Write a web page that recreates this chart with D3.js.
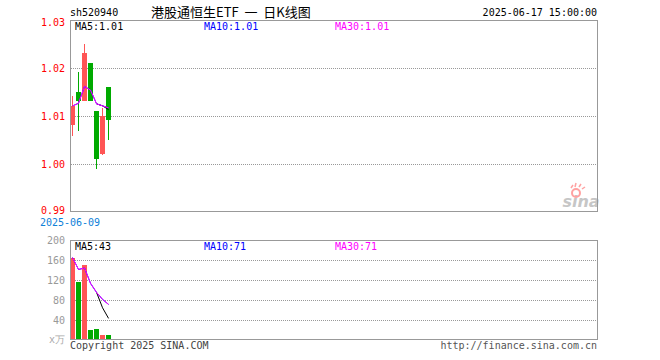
<!DOCTYPE html>
<html lang="zh">
<head>
  <meta charset="UTF-8">
  <title>港股通恒生ETF 日K线图</title>
  <script src="https://cdn.jsdelivr.net/npm/d3@7/dist/d3.min.js"></script>
  <style>
  body{
    margin: 0;
    background: #fff;
  }
  .mono{
    font-family: 'DejaVu Sans Mono', monospace;
    font-size: 10px;
  }
  .titulo{
    font-family: 'Noto Sans CJK SC', sans-serif;
    font-size: 13px;
    fill: #000;
  }
  .ejeY text{
    font-family: 'DejaVu Sans Mono', monospace;
    font-size: 10px;
  }
  .grid{
    stroke: #999;
    stroke-dasharray: 1,1;
    shape-rendering: crispEdges;
  }
  .marco{
    fill: none;
    stroke: #999;
    shape-rendering: crispEdges;
  }
  </style>
</head>
<body>
  <div id="grafico"></div>

  <script>
    // datos diarios
    var fechas = ["2025-06-09", "2025-06-10", "2025-06-11", "2025-06-12", "2025-06-13", "2025-06-16", "2025-06-17"];
    var apertura = [1.0082, 1.0150, 1.0131, 1.0211, 1.0111, 1.0021, 1.0160];
    var cierre   = [1.0121, 1.0132, 1.0232, 1.0131, 1.0011, 1.0100, 1.0092];
    var maximo   = [1.0142, 1.0192, 1.0250, 1.0211, 1.0111, 1.0116, 1.0160];
    var minimo   = [1.0058, 1.0069, 1.0131, 1.0131, 0.9990, 1.0019, 1.0049];
    var volumen  = [165, 117, 150, 21, 23, 11, 11];
    var ticksPrecio = [1.03, 1.02, 1.01, 1.00, 0.99];
    var ticksVolumen = [200, 160, 120, 80, 40];

    var w = 660;
    var h = 360;
    var izq = 70, der = 597;
    var totalSlots = 88;
    var rojo = "#ff5555", verde = "#00aa00";

    var svg = d3.select("#grafico")
      .append("svg")
      .attr("width", w)
      .attr("height", h);

    // escalas
    var slots = fechas.concat(d3.range(fechas.length, totalSlots).map(String));
    var xScale = d3.scaleBand()
      .domain(slots)
      .range([izq, der + 1])
      .paddingInner(1 / 6);
    var bw = Math.round(xScale.bandwidth());
    var xc = function(i){ return xScale(slots[i]) + bw / 2; };

    var yPrecio = d3.scaleLinear().domain([0.99, 1.03]).range([212, 20]);
    var yVol = d3.scaleLinear().domain([0, 200]).range([340, 240]);

    // medias moviles (con los dias disponibles)
    function media(arr, n){
      return arr.map(function(d, i){
        if (n === 5 && i < n - 1) return null;
        var ini = Math.max(0, i - n + 1);
        return d3.mean(arr.slice(ini, i + 1));
      });
    }
    var colMA = {5: "#000000", 10: "#0000ff", 30: "#ff00ff"};

    // cabecera
    svg.append("text").attr("class", "mono").attr("x", 70).attr("y", 16).text("sh520940");
    svg.append("text").attr("class", "titulo").attr("x", 151).attr("y", 17)
      .attr("xml:space", "preserve").text("港股通恒生ETF  一  日K线图");
    svg.append("text").attr("class", "mono").attr("x", der).attr("y", 16)
      .attr("text-anchor", "end").text("2025-06-17 15:00:00");

    // rejillas
    svg.selectAll(".gridP")
      .data(ticksPrecio.slice(1, -1))
      .enter().append("line")
      .attr("class", "grid")
      .attr("x1", izq + 1).attr("x2", der)
      .attr("y1", function(d){ return Math.round(yPrecio(d)) + 0.5; })
      .attr("y2", function(d){ return Math.round(yPrecio(d)) + 0.5; });

    svg.selectAll(".gridV")
      .data(ticksVolumen.slice(1))
      .enter().append("line")
      .attr("class", "grid")
      .attr("x1", izq + 1).attr("x2", der)
      .attr("y1", function(d){ return Math.round(yVol(d)) + 0.5; })
      .attr("y2", function(d){ return Math.round(yVol(d)) + 0.5; });

    // velas
    var velas = svg.append("g").attr("shape-rendering", "crispEdges");
    velas.selectAll(".mecha")
      .data(fechas)
      .enter().append("rect")
      .attr("x", function(d){ return xScale(d) + 2; })
      .attr("width", 1)
      .attr("y", function(d, i){ return yPrecio(maximo[i]); })
      .attr("height", function(d, i){ return yPrecio(minimo[i]) - yPrecio(maximo[i]); })
      .attr("fill", function(d, i){ return cierre[i] >= apertura[i] ? rojo : verde; });

    velas.selectAll(".cuerpo")
      .data(fechas)
      .enter().append("rect")
      .attr("x", function(d){ return xScale(d); })
      .attr("width", bw)
      .attr("y", function(d, i){ return yPrecio(Math.max(apertura[i], cierre[i])); })
      .attr("height", function(d, i){ return Math.max(1, Math.abs(yPrecio(apertura[i]) - yPrecio(cierre[i]))); })
      .attr("fill", function(d, i){ return cierre[i] >= apertura[i] ? rojo : verde; });

    // barras de volumen
    svg.append("g").attr("shape-rendering", "crispEdges")
      .selectAll("rect")
      .data(volumen)
      .enter().append("rect")
      .attr("x", function(d, i){ return xScale(fechas[i]); })
      .attr("width", bw)
      .attr("y", function(d){ return yVol(d); })
      .attr("height", function(d){ return yVol(0) - yVol(d); })
      .attr("fill", function(d, i){ return cierre[i] >= apertura[i] ? rojo : verde; });

    // lineas MA
    [5, 10, 30].forEach(function(n){
      var lp = d3.line()
        .defined(function(d){ return d !== null; })
        .x(function(d, i){ return xc(i); })
        .y(function(d){ return yPrecio(d); });
      svg.append("path").datum(media(cierre, n))
        .attr("d", lp).attr("fill", "none").attr("stroke", colMA[n]).attr("stroke-width", 1);

      var lv = d3.line()
        .defined(function(d){ return d !== null; })
        .x(function(d, i){ return xc(i); })
        .y(function(d){ return yVol(d); });
      svg.append("path").datum(media(volumen, n))
        .attr("d", lv).attr("fill", "none").attr("stroke", colMA[n]).attr("stroke-width", 1);
    });

    // marcos
    svg.append("rect").attr("class", "marco")
      .attr("x", izq + 0.5).attr("y", 20.5).attr("width", der - izq).attr("height", 191);
    svg.append("rect").attr("class", "marco")
      .attr("x", izq + 0.5).attr("y", 240.5).attr("width", der - izq).attr("height", 99);

    // ejes
    var ejeP = svg.append("g")
      .attr("class", "ejeY")
      .attr("transform", "translate(" + (izq - 2) + ",0)")
      .call(d3.axisLeft(yPrecio).tickValues(ticksPrecio).tickSize(0).tickPadding(3).tickFormat(d3.format(".2f")));
    ejeP.select(".domain").remove();
    ejeP.selectAll("text").attr("fill", "#ff0000");
    ejeP.selectAll(".tick").filter(function(d){ return d === 1.03; }).select("text").attr("dy", "0.5em");
    ejeP.selectAll(".tick").filter(function(d){ return d === 0.99; }).select("text").attr("dy", "0.15em");

    var ejeV = svg.append("g")
      .attr("class", "ejeY")
      .attr("transform", "translate(" + (izq - 2) + ",0)")
      .call(d3.axisLeft(yVol).tickValues(ticksVolumen).tickSize(0).tickPadding(3));
    ejeV.select(".domain").remove();
    ejeV.selectAll("text").attr("fill", "#999");
    svg.append("text").attr("class", "mono").attr("x", 65).attr("y", 343)
      .attr("text-anchor", "end").attr("fill", "#aaa").text("x万");

    svg.append("text").attr("class", "mono").attr("x", xScale(fechas[0])).attr("y", 226)
      .attr("text-anchor", "middle").attr("fill", "#0e80d8").text(fechas[0]);

    // leyendas MA
    var f2 = d3.format(".2f"), f0 = d3.format(".0f");
    var ultimo = fechas.length - 1;
    var leyP = [["MA5:", 75, 5], ["MA10:", 204, 10], ["MA30:", 335, 30]];
    leyP.forEach(function(l){
      svg.append("text").attr("class", "mono").attr("x", l[1]).attr("y", 30)
        .attr("fill", colMA[l[2]]).text(l[0] + f2(media(cierre, l[2])[ultimo]));
      svg.append("text").attr("class", "mono").attr("x", l[1]).attr("y", 250)
        .attr("fill", colMA[l[2]]).text(l[0] + f0(media(volumen, l[2])[ultimo]));
    });

    // pie
    svg.append("text").attr("class", "mono").attr("x", 70).attr("y", 349)
      .attr("fill", "#444").text("Copyright 2025 SINA.COM");
    svg.append("text").attr("class", "mono").attr("x", der).attr("y", 349)
      .attr("text-anchor", "end").attr("fill", "#555").text("http://finance.sina.com.cn");

    // marca de agua sina
    var logo = svg.append("g").attr("opacity", 0.55);
    logo.append("text").attr("x", 581).attr("y", 207)
      .attr("text-anchor", "middle")
      .style("font", "italic bold 16px 'DejaVu Sans', sans-serif")
      .attr("fill", "#999").text("sina");
    logo.append("circle").attr("cx", 576).attr("cy", 193).attr("r", 4)
      .attr("fill", "none").attr("stroke", "#f55").attr("stroke-width", 2);
    logo.append("path").attr("d", "M571,188 L573,185 M575,187 L576,183 M579,187 L581,184 M582,189 L585,187")
      .attr("stroke", "#f55").attr("stroke-width", 1.5);
  </script>
</body>
</html>
